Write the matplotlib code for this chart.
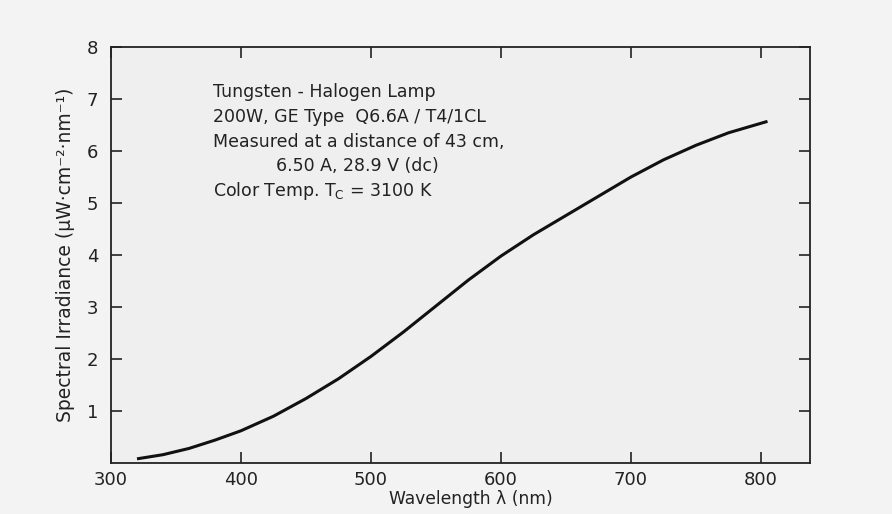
import numpy as np
import matplotlib.pyplot as plt

# curve (wavelength in nm, irradiance in uW cm^-2 nm^-1)
wavelength = [320, 340, 360, 380, 400, 425, 450, 475, 500, 525, 550,
              575, 600, 625, 650, 675, 700, 725, 750, 775, 805]
irradiance = [0.08, 0.16, 0.28, 0.44, 0.62, 0.90, 1.24, 1.62, 2.05, 2.52, 3.02,
              3.52, 3.98, 4.39, 4.76, 5.13, 5.50, 5.83, 6.11, 6.35, 6.57]

x_ticks = [300, 400, 500, 600, 700, 800]
y_ticks = [1, 2, 3, 4, 5, 6, 7, 8]

notes = ["Tungsten - Halogen Lamp",
         "200W, GE Type  Q6.6A / T4/1CL",
         "Measured at a distance of 43 cm,",
         "6.50 A, 28.9 V (dc)",
         r"Color Temp. T$_\mathrm{C}$ = 3100 K"]

W, H = 892, 514
fig = plt.figure(figsize=(W / 100, H / 100), dpi=100, facecolor="#f3f3f3")
ax = fig.add_axes([111 / W, 1 - 463 / H, (810 - 111) / W, (463 - 47) / H])
ax.set_facecolor("#efefef")

ax.plot(wavelength, irradiance, color="#111111", lw=2.2,
        solid_capstyle="butt", solid_joinstyle="round")

ax.set_xlim(300, 837.7)
ax.set_ylim(0, 8)
ax.set_xticks(x_ticks)
ax.set_xticklabels([str(v) for v in x_ticks])
ax.set_yticks(y_ticks)
ax.set_yticklabels([str(v) for v in y_ticks])
ax.tick_params(direction="in", length=8, width=1.2, color="#222222",
               top=True, right=True, labelsize=13, labelcolor="#222222")
ax.tick_params(axis="x", pad=6)
ax.tick_params(axis="y", pad=9)
for s in ax.spines.values():
    s.set_linewidth(1.3)
    s.set_color("#222222")

ax.set_xlabel("Wavelength λ (nm)", fontsize=12.3, color="#222222")
ax.xaxis.set_label_coords((471 - 111) / 699, -0.066)
ax.set_ylabel("Spectral Irradiance (μW·cm⁻²·nm⁻¹)", fontsize=13.5,
              color="#222222")
ax.yaxis.set_label_coords(-0.052, 0.5)

# annotation block
ys = [92, 117, 142, 166, 191]
xs = [213, 213, 213, 276, 213]
for txt, px, py in zip(notes, xs, ys):
    fig.text(px / W, 1 - py / H, txt, fontsize=12.5, color="#222222",
             va="center", ha="left")

fig.savefig("out.png", dpi=100, facecolor=fig.get_facecolor())
